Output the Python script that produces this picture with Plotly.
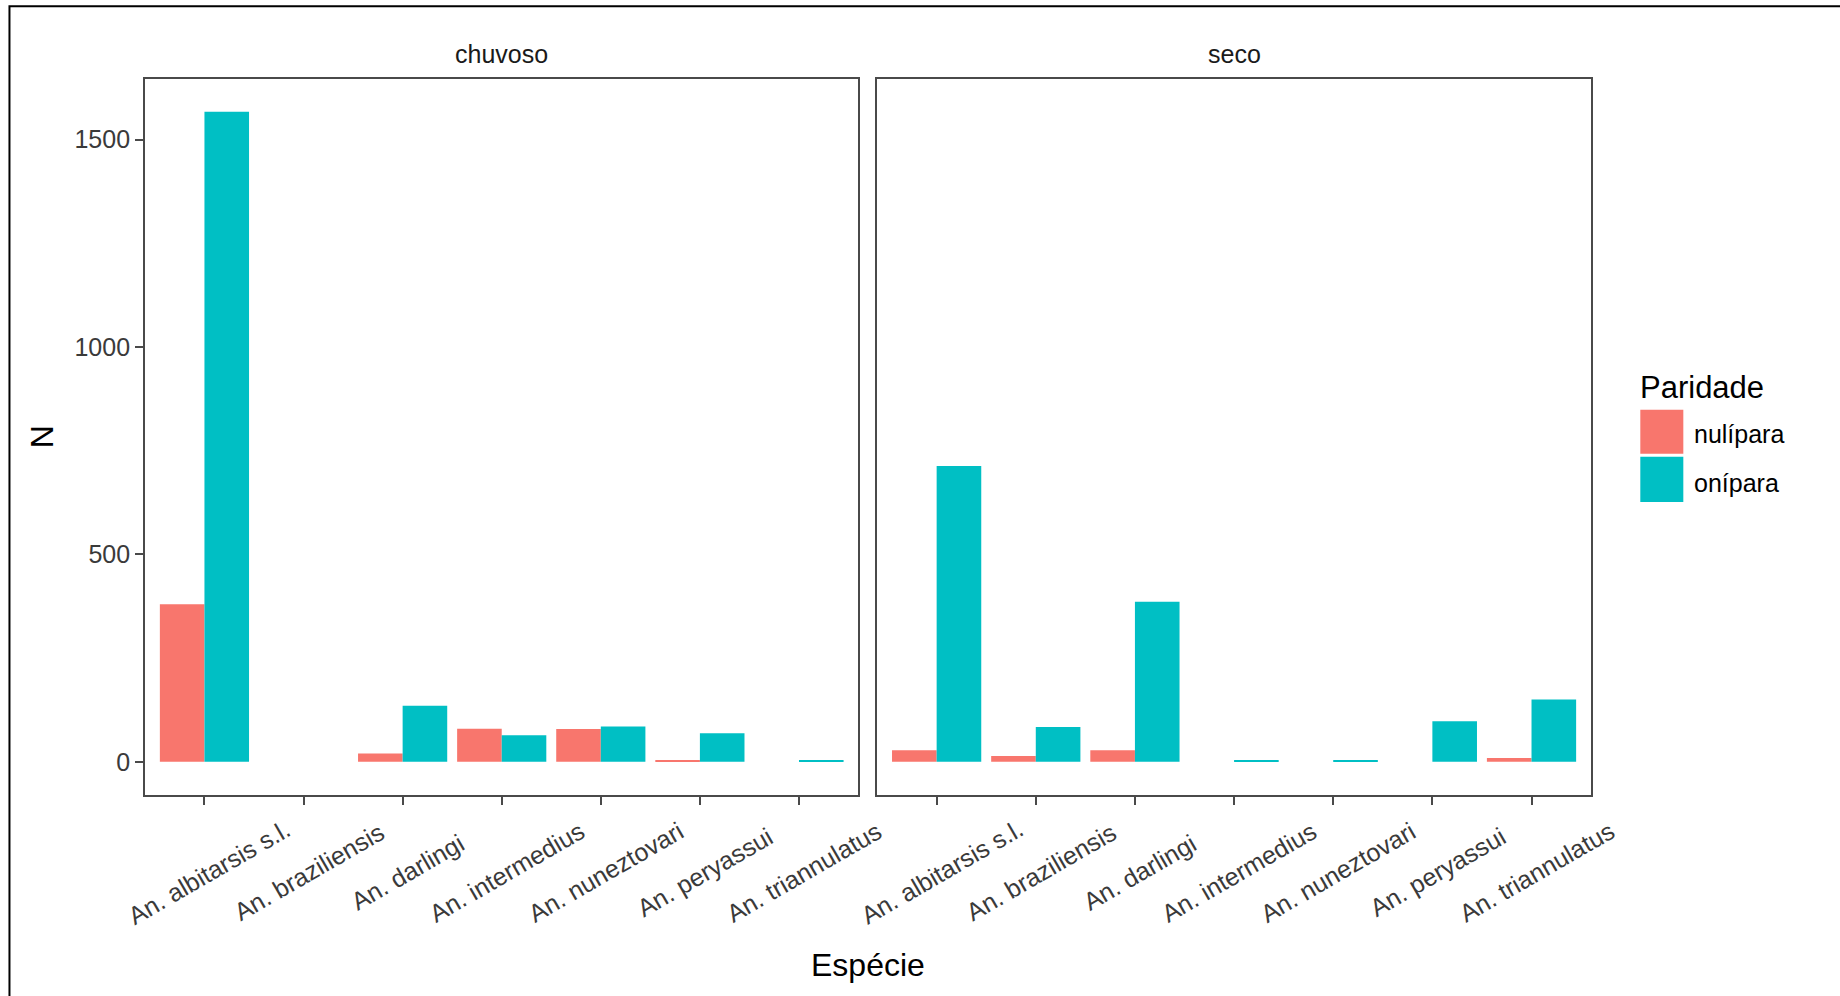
import plotly.graph_objects as go

# ---------------- data ----------------
species = ["An. albitarsis s.l.", "An. braziliensis", "An. darlingi", "An. intermedius",
           "An. nuneztovari", "An. peryassui", "An. triannulatus"]
tick_labels = ["An. albitarsis s.l.", "An. braziliensis", "An. darlingi", "An. intermedius",
               "An. nuneztovari", "An. peryassui", "An. triannulatus"]
panels = ["chuvoso", "seco"]
groups = ["nulípara", "onípara"]
chuvoso_nulipara = [380, 0, 20, 80, 79, 4, 0]
chuvoso_onipara = [1567, 0, 135, 64, 85, 69, 3]
seco_nulipara = [28, 14, 28, 0, 0, 0, 9]
seco_onipara = [713, 84, 386, 3, 3, 98, 150]
y_ticks = [0, 500, 1000, 1500]

colors = {"nulípara": "#F8766D", "onípara": "#00BFC4"}

# ---------------- geometry (pixels) ----------------
W, H = 1840, 996
L, R, T, B = 145.0, 1590.7, 79.3, 795.0
P1_R = 858.3
P2_L = 877.0
LINE = "#4A4A4A"
TXT = "#3A3A3A"


def px(x):
    return (x - L) / (R - L)


def py(y):
    return (B - y) / (B - T)


fig = go.Figure()
data = {
    ("chuvoso", "nulípara"): chuvoso_nulipara,
    ("chuvoso", "onípara"): chuvoso_onipara,
    ("seco", "nulípara"): seco_nulipara,
    ("seco", "onípara"): seco_onipara,
}
for i, p in enumerate(panels):
    xa = "x" if i == 0 else "x2"
    ya = "y" if i == 0 else "y2"
    for g in groups:
        fig.add_trace(go.Bar(
            x=species, y=data[(p, g)], name=g, xaxis=xa, yaxis=ya,
            marker=dict(color=colors[g], line=dict(width=0)),
            showlegend=False,
        ))

axis_common = dict(
    showline=True, linecolor=LINE, linewidth=1.8, mirror=True,
    showgrid=False, zeroline=False,
)
fig.update_layout(
    width=W, height=H,
    margin=dict(l=L, r=W - R, t=T, b=H - B, pad=0),
    paper_bgcolor="white", plot_bgcolor="white",
    barmode="group", bargap=0.1, bargroupgap=0,
    font=dict(family="Liberation Sans, Arial, sans-serif", size=25, color=TXT),
    xaxis=dict(domain=[0, px(P1_R)], type="category", categoryorder="array",
               categoryarray=species, range=[-0.6, 6.6], ticks="outside", ticklen=8,
               tickwidth=1.6, tickcolor=LINE, showticklabels=False, anchor="y",
               **axis_common),
    xaxis2=dict(domain=[px(P2_L), 1], type="category", categoryorder="array",
                categoryarray=species, range=[-0.6, 6.6], ticks="outside", ticklen=8,
                tickwidth=1.6, tickcolor=LINE, showticklabels=False, anchor="y2",
                **axis_common),
    yaxis=dict(domain=[0, 1], range=[-80, 1646], tickvals=y_ticks, ticks="outside",
               ticklen=8, tickwidth=1.6, tickcolor=LINE,
               tickfont=dict(size=25, color=TXT), anchor="x", **axis_common),
    yaxis2=dict(domain=[0, 1], range=[-80, 1646], matches="y", ticks="",
                showticklabels=False, anchor="x2", **axis_common),
)

ann = []
# rotated x tick labels (centred under ticks, ggplot style)
for i, xa in enumerate(["x", "x2"]):
    for sp, lab in zip(species, tick_labels):
        ann.append(dict(x=sp, y=py(872), xref=xa, yref="paper", text=lab,
                        textangle=-30, showarrow=False, xanchor="center", yanchor="middle",
                        xshift=5, font=dict(size=25, color=TXT)))
# strip labels
ann.append(dict(x=px((L + P1_R) / 2), y=py(54.5), xref="paper", yref="paper", text=panels[0],
                showarrow=False, xanchor="center", yanchor="middle",
                font=dict(size=25, color="#1A1A1A")))
ann.append(dict(x=px((P2_L + R) / 2), y=py(54.5), xref="paper", yref="paper", text=panels[1],
                showarrow=False, xanchor="center", yanchor="middle",
                font=dict(size=25, color="#1A1A1A")))
# axis titles
ann.append(dict(x=px((L + R) / 2), y=py(965), xref="paper", yref="paper", text="Espécie",
                showarrow=False, xanchor="center", yanchor="middle",
                font=dict(size=32, color="black")))
ann.append(dict(x=px(42), y=py(436.5), xref="paper", yref="paper", text="N", textangle=-90,
                showarrow=False, xanchor="center", yanchor="middle",
                font=dict(size=32, color="black")))
# legend
ann.append(dict(x=px(1638), y=py(388), xref="paper", yref="paper", text="Paridade",
                showarrow=False, xanchor="left", yanchor="middle",
                font=dict(size=31, color="black")))
key_y = [(410, 454), (457, 502)]
lab_y = [434, 483]
shapes = []
for g, (y0, y1), ly in zip(groups, key_y, lab_y):
    shapes.append(dict(type="rect", xref="paper", yref="paper", x0=px(1640), x1=px(1683),
                       y0=py(y1), y1=py(y0), fillcolor=colors[g], line=dict(width=0)))
    ann.append(dict(x=px(1692), y=py(ly), xref="paper", yref="paper", text=g,
                    showarrow=False, xanchor="left", yanchor="middle",
                    font=dict(size=25, color="black")))
# outer screenshot frame
shapes.append(dict(type="path", xref="paper", yref="paper",
                   path=f"M {px(9.5)},{py(1000)} L {px(9.5)},{py(6.5)} L {px(1845)},{py(6.5)}",
                   line=dict(color="black", width=2)))

fig.update_layout(annotations=ann, shapes=shapes)

fig.write_html("out.html", config={"displayModeBar": False},
               post_script="document.body.style.margin='0px';")
